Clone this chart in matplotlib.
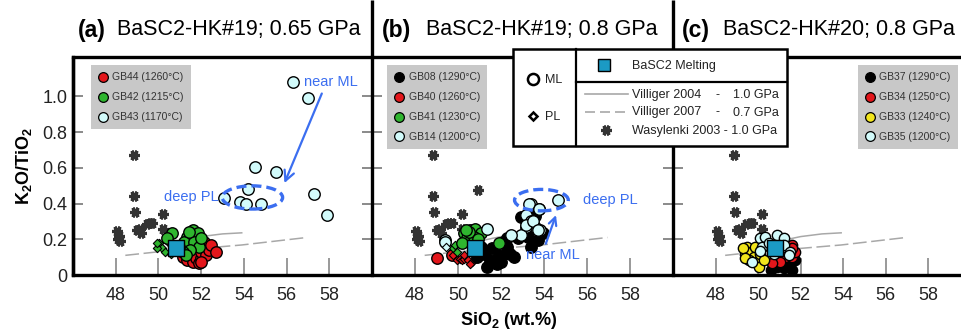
import matplotlib
matplotlib.use("Agg")
import matplotlib.pyplot as plt
from matplotlib.lines import Line2D
from matplotlib.patches import Ellipse, Rectangle

plt.rcParams["font.family"] = ["Liberation Sans", "DejaVu Sans"]
plt.rcParams["mathtext.fontset"] = "custom"
plt.rcParams["mathtext.rm"] = "Liberation Sans"
plt.rcParams["mathtext.bf"] = "Liberation Sans:bold"

# ---- reference curves / literature data (same in every panel) ----
vil04_x = [50.5, 51.2, 52.0, 53.0, 53.9]
vil04_y = [0.165, 0.195, 0.215, 0.23, 0.236]
vil07_x = [48.45, 50.0, 52.0, 53.9, 55.5, 56.95]
vil07_y = [0.11, 0.13, 0.149, 0.168, 0.19, 0.21]
was_x = [48.05, 48.15, 48.1, 48.2, 48.85, 48.85, 48.9, 49.0, 49.2, 49.15, 49.45, 49.6, 49.7, 50.2, 50.2]
was_y = [0.245, 0.22, 0.20, 0.19, 0.67, 0.44, 0.35, 0.25, 0.235, 0.26, 0.285, 0.29, 0.29, 0.34, 0.26]
was_extra_b_x = [50.95]
was_extra_b_y = [0.475]
basc2_x = [50.8]
basc2_y = [0.15]

# ---- panel (a) ----
a_gb44_x = [51.13, 51.36, 51.6, 51.75, 51.9, 51.99, 52.0, 52.15, 52.23, 52.23, 52.38, 52.46, 52.7, 51.99]
a_gb44_y = [0.10, 0.084, 0.075, 0.093, 0.065, 0.093, 0.13, 0.186, 0.158, 0.112, 0.14, 0.168, 0.13, 0.075]
a_gb42_x = [51.6, 51.83, 51.36, 51.2, 51.67, 51.9, 51.5, 51.13, 50.97, 51.99, 51.44, 51.28, 50.65, 50.42]
a_gb42_y = [0.25, 0.233, 0.214, 0.186, 0.186, 0.158, 0.14, 0.13, 0.158, 0.205, 0.242, 0.112, 0.233, 0.205]
a_gb42_pl_x = [50.02, 50.18, 50.33, 49.94, 50.49, 50.6, 49.95]
a_gb42_pl_y = [0.177, 0.153, 0.13, 0.153, 0.177, 0.12, 0.177]
a_gb43_x = [56.3, 57.0, 54.5, 55.5, 57.3, 57.9, 53.06, 53.8, 54.2, 54.1, 54.8]
a_gb43_y = [1.08, 0.993, 0.605, 0.574, 0.453, 0.335, 0.432, 0.41, 0.48, 0.397, 0.397]

# ---- panel (b) ----
b_gb08_x = [52.3, 52.6, 51.9, 51.5, 51.2, 51.05, 53.25, 53.7, 52.8, 52.3, 52.93, 52.1, 51.6,
            51.37, 50.9, 52.4, 53.4, 53.95, 53.6, 51.8, 52.0]
b_gb08_y = [0.158, 0.10, 0.11, 0.084, 0.12, 0.158, 0.214, 0.195, 0.205, 0.205, 0.326, 0.186, 0.15,
            0.046, 0.10, 0.12, 0.158, 0.233, 0.33, 0.06, 0.07]
b_gb40_x = [49.0, 49.7]
b_gb40_y = [0.093, 0.11]
b_gb40_pl_x = [49.78, 49.95, 50.1, 50.2, 50.3, 50.45, 50.26, 50.65, 50.8, 50.55]
b_gb40_pl_y = [0.11, 0.084, 0.09, 0.084, 0.09, 0.084, 0.11, 0.07, 0.09, 0.06]
b_gb41_x = [50.26, 50.58, 50.81, 51.05, 50.42, 50.73, 50.18, 51.9, 50.5, 50.95, 50.35]
b_gb41_y = [0.233, 0.25, 0.26, 0.233, 0.205, 0.215, 0.177, 0.177, 0.24, 0.2, 0.25]
b_gb41_pl_x = [49.79, 49.86, 49.95]
b_gb41_pl_y = [0.15, 0.17, 0.13]
b_gb14_x = [53.4, 53.75, 54.65, 53.17, 53.4, 53.56, 53.17, 53.8, 52.93, 52.46, 51.35, 49.38,
            53.16, 53.47, 53.7, 53.3, 53.78, 49.4]
b_gb14_y = [0.40, 0.372, 0.42, 0.335, 0.30, 0.27, 0.27, 0.25, 0.223, 0.223, 0.26, 0.196,
            0.28, 0.30, 0.25, 0.40, 0.372, 0.186]
b_gb14_pl_x = [49.46]
b_gb14_pl_y = [0.158]

# ---- panel (c) ----
c_gb37_x = [50.9, 51.2, 51.52, 51.75, 50.6, 51.36, 51.0, 51.6]
c_gb37_y = [0.046, 0.04, 0.065, 0.084, 0.028, 0.085, 0.075, 0.03]
c_gb34_x = [51.6, 51.28, 51.6, 51.05, 50.66, 51.75, 51.6]
c_gb34_y = [0.168, 0.10, 0.10, 0.075, 0.065, 0.13, 0.15]
c_gb33_x = [49.48, 49.4, 49.65, 49.8, 49.57, 49.95, 50.03, 50.1, 49.87, 50.26, 49.3, 49.4]
c_gb33_y = [0.158, 0.12, 0.13, 0.10, 0.084, 0.075, 0.046, 0.12, 0.158, 0.084, 0.15, 0.095]
c_gb35_x = [50.1, 50.34, 50.9, 51.2, 51.2, 50.18, 50.1, 49.71, 51.52, 50.73, 50.5, 51.45]
c_gb35_y = [0.205, 0.214, 0.223, 0.205, 0.17, 0.158, 0.135, 0.075, 0.13, 0.12, 0.18, 0.11]

titles = [("(a)", "BaSC2-HK#19; 0.65 GPa"), ("(b)", "BaSC2-HK#19; 0.8 GPa"),
          ("(c)", "BaSC2-HK#20; 0.8 GPa")]
xticks = [48, 50, 52, 54, 56, 58]
yticks = [0, 0.2, 0.4, 0.6, 0.8, 1.0]
ytick_labels = ["0", "0.2", "0.4", "0.6", "0.8", "1.0"]

RED, GREEN, CYAN, BLACK, YELLOW = "#e3161b", "#2fb52f", "#d2fbfb", "#000000", "#f2e51c"
SQ = "#1b9ac4"
BLUE = "#3b6ef0"
GREY_LINE = "#a8a8a8"

fig = plt.figure(figsize=(9.61, 3.35), dpi=100)
W, H = 961, 335
bot, hgt = 60 / H, 218 / H
ax_a = fig.add_axes([73 / W, bot, 299 / W, hgt])
ax_b = fig.add_axes([372 / W, bot, 301 / W, hgt])
ax_c = fig.add_axes([673 / W, bot, 298 / W, hgt])

for ax in (ax_a, ax_b, ax_c):
    ax.set_xlim(46, 60)
    ax.set_ylim(0, 1.22)
    ax.set_xticks(xticks)
    ax.set_yticks(yticks)
    ax.set_yticklabels(ytick_labels)
    ax.tick_params(axis="x", direction="in", length=12, width=1.2, color="#888888",
                   labelsize=13, pad=9, labelcolor="#222222")
    ax.tick_params(axis="y", direction="in", length=7, width=1.2, color="#777777",
                   left=True, right=True, labelsize=13, pad=4, labelcolor="#222222")
    for s in ax.spines.values():
        s.set_linewidth(2.4)
    ax.spines["left"].set_visible(False)
    ax.spines["right"].set_visible(False)
    ax.patch.set_alpha(0)
    # literature
    ax.plot(vil04_x, vil04_y, color=GREY_LINE, lw=1.1, zorder=1)
    ax.plot(vil07_x, vil07_y, color=GREY_LINE, lw=1.1, dashes=(9, 3), zorder=1)
    ax.plot(was_x, was_y, ls="none", marker=(6, 2, 90), ms=7.5, mew=2.3, color="#333333", zorder=2)
ax_a.spines["left"].set_visible(True)
ax_b.tick_params(axis="y", labelleft=False)
ax_c.tick_params(axis="y", labelleft=False)
ax_b.plot(was_extra_b_x, was_extra_b_y, ls="none", marker=(6, 2, 90), ms=7.5, mew=2.3,
          color="#333333", zorder=2)


def ml(ax, x, y, c, s=68, z=3):
    ax.scatter(x, y, s=s, c=c, edgecolors="black", linewidths=1.0, zorder=z)


def pl(ax, x, y, c, z=3):
    ax.scatter(x, y, s=18, c=c, marker="D", edgecolors="black", linewidths=0.8, zorder=z)


def square(ax):
    ax.scatter(basc2_x, basc2_y, s=130, marker="s", c=SQ, edgecolors="black",
               linewidths=1.0, zorder=10)


# panel a
ml(ax_a, a_gb44_x, a_gb44_y, RED)
pl(ax_a, a_gb42_pl_x, a_gb42_pl_y, GREEN)
ml(ax_a, a_gb42_x, a_gb42_y, GREEN)
ml(ax_a, a_gb43_x, a_gb43_y, CYAN)
square(ax_a)
ax_a.add_patch(Ellipse((54.4, 0.434), 2.83, 0.13, fill=False, ec=BLUE, lw=2.4, ls=(0, (3, 1.5)),
                       zorder=6))
ax_a.text(52.8, 0.435, "deep PL", color=BLUE, fontsize=10.5, ha="right", va="center")
ax_a.text(56.8, 1.08, "near ML", color=BLUE, fontsize=10.5, ha="left", va="center")
ax_a.annotate("", xy=(55.85, 0.50), xytext=(57.7, 1.03),
              arrowprops=dict(arrowstyle="->", color=BLUE, lw=1.6, mutation_scale=18))

# panel b
ml(ax_b, b_gb40_x, b_gb40_y, RED)
pl(ax_b, b_gb40_pl_x, b_gb40_pl_y, RED)
ml(ax_b, b_gb08_x, b_gb08_y, BLACK)
pl(ax_b, b_gb41_pl_x, b_gb41_pl_y, GREEN)
ml(ax_b, b_gb41_x, b_gb41_y, GREEN)
ml(ax_b, b_gb14_x, b_gb14_y, CYAN)
pl(ax_b, b_gb14_pl_x, b_gb14_pl_y, CYAN)
square(ax_b)
ax_b.add_patch(Ellipse((53.88, 0.419), 2.5, 0.12, fill=False, ec=BLUE, lw=2.4, ls=(0, (3, 1.5)),
                       zorder=6))
ax_b.text(55.8, 0.42, "deep PL", color=BLUE, fontsize=10.5, ha="left", va="center")
ax_b.text(54.4, 0.11, "near ML", color=BLUE, fontsize=10.5, ha="center", va="center")
ax_b.annotate("", xy=(54.6, 0.35), xytext=(54.04, 0.16),
              arrowprops=dict(arrowstyle="->", color=BLUE, lw=1.6, mutation_scale=14))

# panel c
ml(ax_c, c_gb37_x, c_gb37_y, BLACK, s=55)
ml(ax_c, c_gb34_x, c_gb34_y, RED, s=55)
ml(ax_c, c_gb33_x, c_gb33_y, YELLOW, s=55)
ml(ax_c, c_gb35_x, c_gb35_y, CYAN, s=55)
square(ax_c)


def run_legend(ax, items, x0):
    handles = [Line2D([], [], ls="none", marker="o", ms=7, mfc=c, mec="black", mew=0.9, label=l)
               for l, c in items]
    leg = ax.legend(handles=handles, loc="upper left", bbox_to_anchor=(x0, 0.963),
                    borderaxespad=0, frameon=True, facecolor="#c8c8c8", edgecolor="none",
                    framealpha=1, fancybox=False, fontsize=7.5, handlelength=0.9,
                    handletextpad=0.45, labelspacing=0.95, borderpad=0.7)
    for t in leg.get_texts():
        t.set_color("#333333")
    leg.set_zorder(20)


run_legend(ax_a, [("GB44 (1260°C)", RED), ("GB42 (1215°C)", GREEN), ("GB43 (1170°C)", CYAN)], 0.059)
run_legend(ax_b, [("GB08 (1290°C)", BLACK), ("GB40 (1260°C)", RED), ("GB41 (1230°C)", GREEN),
                  ("GB14 (1200°C)", CYAN)], 0.051)
run_legend(ax_c, [("GB37 (1290°C)", BLACK), ("GB34 (1250°C)", RED), ("GB33 (1240°C)", YELLOW),
                  ("GB35 (1200°C)", CYAN)], 0.62)

ax_a.set_ylabel(r"K$_\mathbf{2}$O/TiO$_\mathbf{2}$", fontsize=13, fontweight="bold", labelpad=6)
fig.text(509 / W, 0.042, r"SiO$_\mathbf{2}$ (wt.%)", fontsize=13, fontweight="bold",
         ha="center", va="center")

# overlay in pixel units: panel separators, titles, key box
ov = fig.add_axes([0, 0, 1, 1], zorder=10)
ov.set_xlim(0, W)
ov.set_ylim(H, 0)
ov.axis("off")
for xs in (372, 673):
    ov.plot([xs, xs], [0, 275], color="black", lw=2.4, zorder=1, solid_capstyle="butt")
ov.plot([73, 73], [57, 276], color="black", lw=2.4, zorder=1, solid_capstyle="butt")

for (lab, txt), x0, x1 in zip(titles, (78, 382, 682), (117, 426, 723)):
    ov.text(x0, 30, lab, fontsize=16.5, fontweight="bold", ha="left", va="center")
    ov.text(x1, 30, txt, fontsize=15.5, ha="left", va="center")

ov.add_patch(Rectangle((513, 49), 273.5, 97, fc="white", ec="black", lw=1.8, zorder=5))
ov.plot([576, 576], [49, 146], color="black", lw=1.6, zorder=6)
ov.plot([576, 786.5], [81.7, 81.7], color="black", lw=1.6, zorder=6)
ov.plot([533], [79], marker="o", ms=8, mfc="white", mec="black", mew=1.8, zorder=7)
ov.text(545, 80, "ML", fontsize=9, ha="left", va="center", color="#222222", zorder=7)
ov.plot([533], [116], marker="D", ms=4.5, mfc="white", mec="black", mew=1.8, zorder=7)
ov.text(545, 117, "PL", fontsize=9, ha="left", va="center", color="#222222", zorder=7)
ov.plot([604], [65], marker="s", ms=9, mfc=SQ, mec="black", mew=1.0, zorder=7)
ov.text(632, 66, "BaSC2 Melting", fontsize=9, ha="left", va="center", color="#222222", zorder=7)
ov.plot([585, 628], [94, 94], color=GREY_LINE, lw=1.2, zorder=7)
ov.plot([585, 628], [111.5, 111.5], color=GREY_LINE, lw=1.2, dashes=(6, 3), zorder=7)
ov.plot([606], [130], marker=(6, 2, 90), ms=7.5, mew=2.3, color="#333333", zorder=7)
for yy, name, p in ((95, "Villiger 2004", "1.0 GPa"), (112.5, "Villiger 2007", "0.7 GPa")):
    ov.text(632, yy, name, fontsize=9, ha="left", va="center", color="#222222", zorder=7)
    ov.text(718, yy, "-", fontsize=9, ha="center", va="center", color="#222222", zorder=7)
    ov.text(779, yy, p, fontsize=9, ha="right", va="center", color="#222222", zorder=7)
ov.text(632, 131, "Wasylenki 2003 - 1.0 GPa", fontsize=9, ha="left", va="center",
        color="#222222", zorder=7)

fig.savefig("out.png", dpi=100)
